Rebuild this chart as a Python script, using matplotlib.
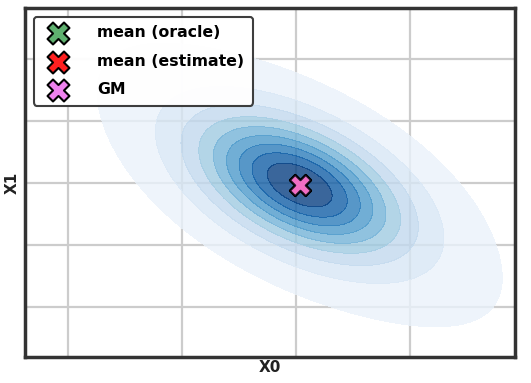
import numpy as np
import matplotlib
matplotlib.use("Agg")
import matplotlib.pyplot as plt
from matplotlib.colors import ListedColormap

# Density shape: two overlapping components (data units)
center = [0.03, -0.03]
core_sigma = [0.55, 0.68]
core_rho = -0.48
core_weight = 0.75
wide_sigma = [1.0, 1.3]
wide_rho = -0.72
wide_weight = 0.25
# seaborn-style iso-proportion levels (thresh=0.05, 10 levels)
proportions = [0.05, 0.1556, 0.2611, 0.3667, 0.4722, 0.5778, 0.6833, 0.7889, 0.8944]
xticks = [-2, -1, 0, 1]
yticks = [-2, -1, 0, 1, 2]
markers = ["mean (oracle)", "mean (estimate)", "GM"]
marker_colors = ["#5fb06f", "#ff2020", "#ee82ee"]
marker_pos = [[0.03, -0.03], [0.03, -0.03], [0.03, -0.03]]


def gauss(X, Y, c, s, r):
    dx = (X - c[0]) / s[0]
    dy = (Y - c[1]) / s[1]
    r2 = (dx**2 - 2 * r * dx * dy + dy**2) / (1 - r**2)
    return np.exp(-r2 / 2) / (2 * np.pi * s[0] * s[1] * np.sqrt(1 - r**2))


fig = plt.figure(figsize=(5.31, 3.83), dpi=100)
ax = fig.add_axes([0.047, 0.068, 0.923, 0.911])

gx = np.linspace(-5, 5, 600)
gy = np.linspace(-6, 6, 600)
X, Y = np.meshgrid(gx, gy)
Z = core_weight * gauss(X, Y, center, core_sigma, core_rho) + \
    wide_weight * gauss(X, Y, center, wide_sigma, wide_rho)
zs = np.sort(Z.ravel())
cum = np.cumsum(zs)
cum /= cum[-1]
levels = [zs[np.searchsorted(cum, q)] for q in proportions] + [Z.max() * 1.01]
cmap = ListedColormap(plt.get_cmap("Blues")(np.linspace(0.03, 1.0, 256)))
ax.contourf(X, Y, Z, levels=levels, cmap=cmap, alpha=0.8, zorder=1)

for name, c, p in zip(markers, marker_colors, marker_pos):
    ax.scatter([p[0]], [p[1]], marker="X", s=230, color=c, edgecolor="black",
               linewidth=1.5, alpha=0.8 if name == "GM" else 1.0, zorder=3, label=name)

ax.set_xlim(-2.38, 1.92)
ax.set_ylim(-2.8, 2.82)
ax.set_xticks(xticks)
ax.set_yticks(yticks)
ax.tick_params(length=0, labelbottom=False, labelleft=False)
ax.grid(True, color="#cccccc", linewidth=1.6)
ax.set_axisbelow(True)
for s in ax.spines.values():
    s.set_color("#333333")
    s.set_linewidth(2.5)
ax.set_xlabel("X0", fontweight="bold", fontsize=11, color="#222222", labelpad=2)
ax.set_ylabel("X1", fontweight="bold", fontsize=11, color="#222222", labelpad=4)

leg = ax.legend(loc="upper left", prop={"weight": "bold", "size": 11.3},
                frameon=True, fancybox=True, framealpha=0.95, edgecolor="#333333",
                borderpad=0.55, handletextpad=1.5, labelspacing=0.85,
                borderaxespad=0.55, handlelength=2.0)
leg.get_frame().set_linewidth(1.5)
for h in leg.legend_handles:
    h.set_alpha(1.0)
    h.set_sizes([250])

fig.savefig("out.png", dpi=100)
